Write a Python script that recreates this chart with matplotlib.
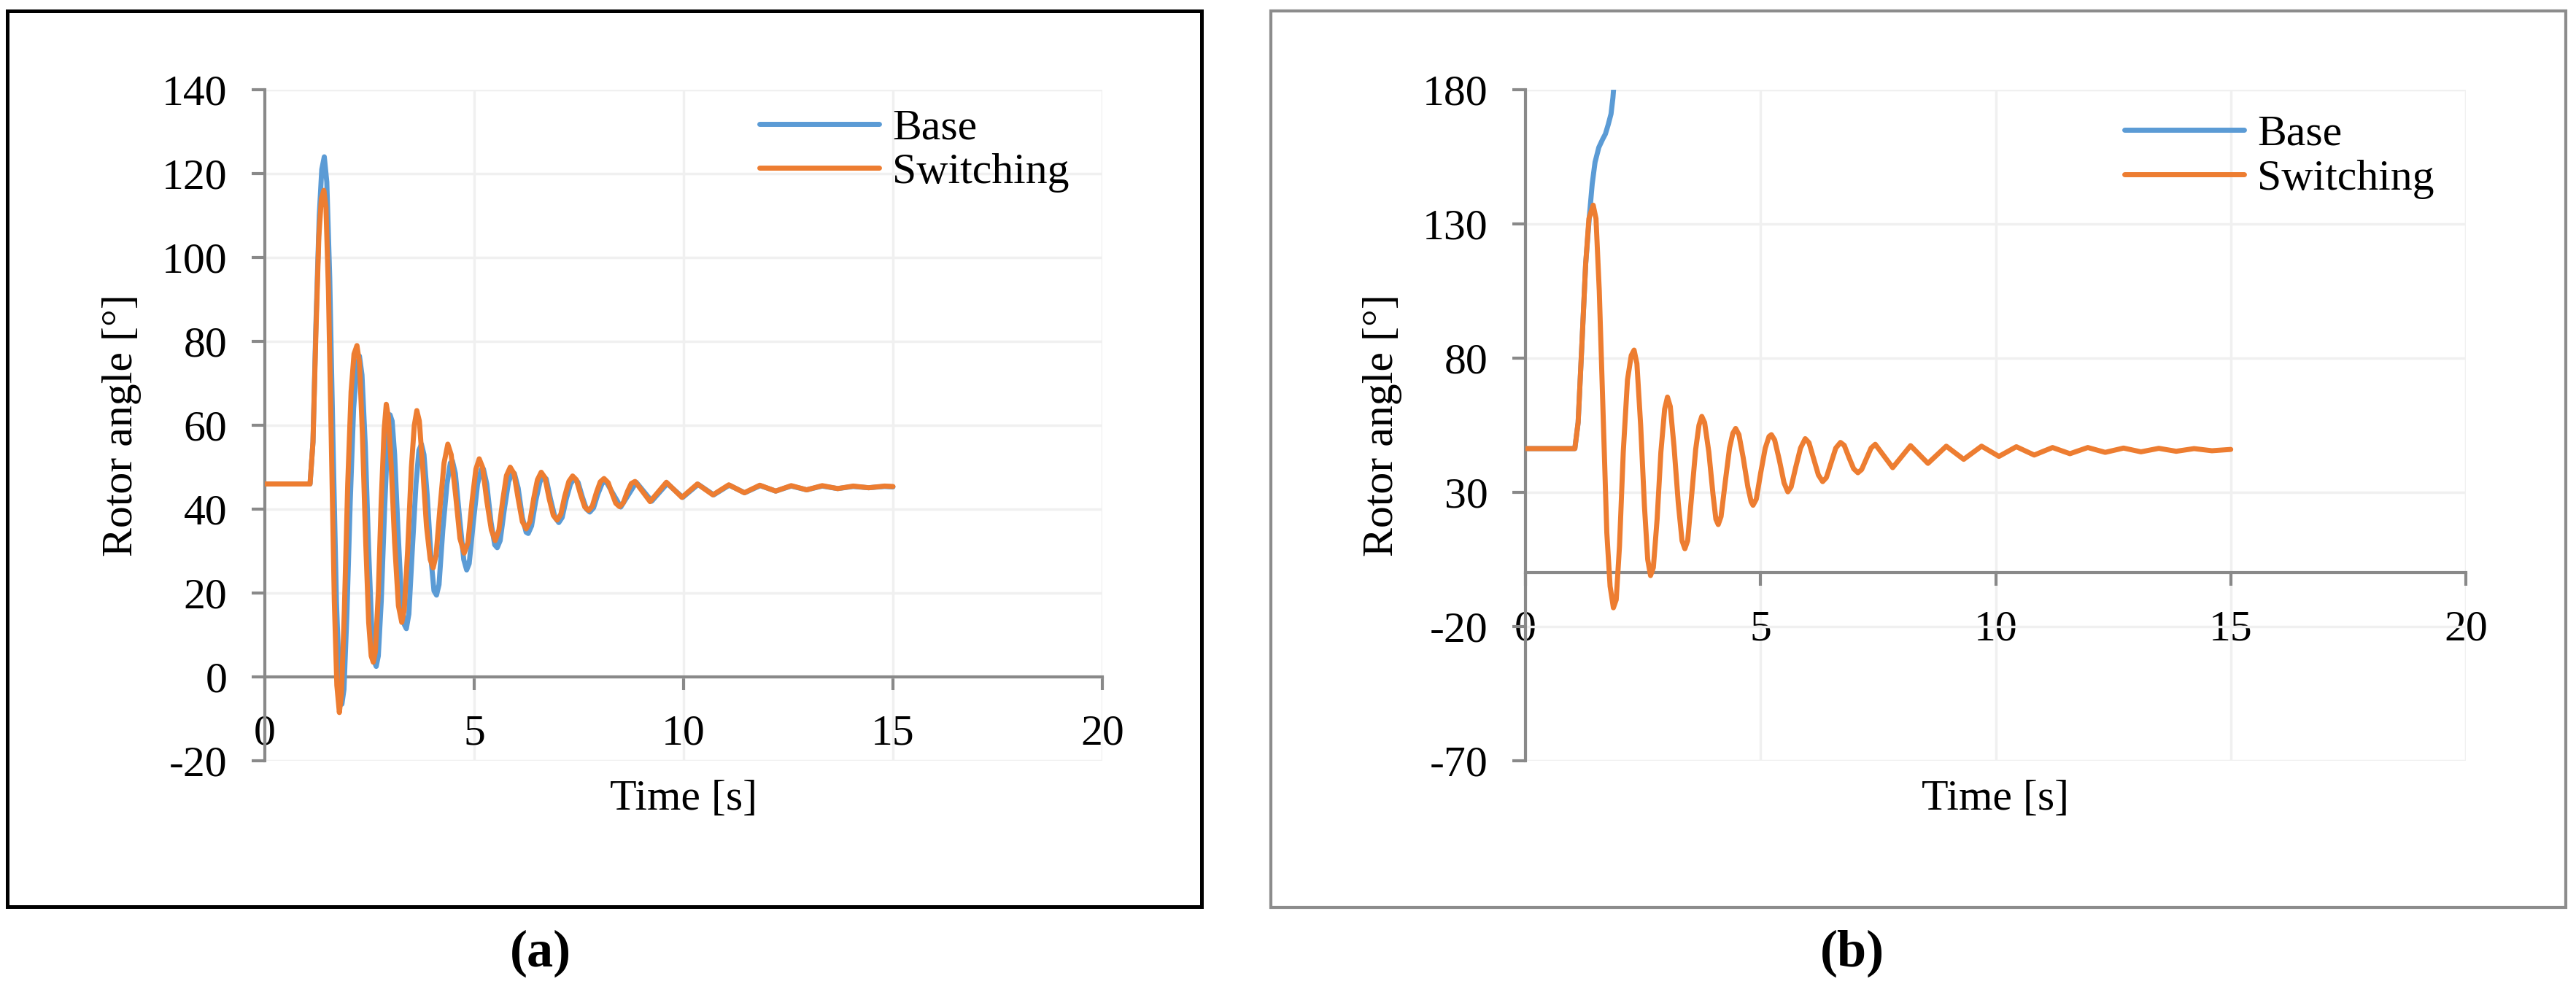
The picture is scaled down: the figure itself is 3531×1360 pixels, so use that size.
import matplotlib
matplotlib.use("Agg")
import matplotlib.pyplot as plt
from matplotlib.patches import Rectangle

plt.rcParams['font.family'] = ['Liberation Serif', 'DejaVu Serif']
plt.rcParams['axes.unicode_minus'] = False

# ---------------- data ----------------
# Panel (a)
a_switch_t = [0, 1.08, 1.15, 1.22, 1.29, 1.35, 1.41, 1.46, 1.52, 1.59, 1.66, 1.72, 1.78, 1.83, 1.9,
              1.98, 2.06, 2.13, 2.2, 2.26, 2.33, 2.41, 2.48, 2.54, 2.59, 2.64, 2.71, 2.78, 2.85, 2.9,
              2.95, 3.02, 3.1, 3.19, 3.27, 3.33, 3.41, 3.5, 3.57, 3.63, 3.69, 3.77, 3.86, 3.95, 4.02,
              4.09, 4.18, 4.28, 4.37, 4.45, 4.56, 4.66, 4.76, 4.85, 4.95, 5.04, 5.12, 5.2, 5.3, 5.41,
              5.5, 5.59, 5.68, 5.77, 5.86, 5.95, 6.05, 6.15, 6.24, 6.33, 6.42, 6.51, 6.6, 6.69, 6.79,
              6.89, 6.98, 7.07, 7.16, 7.26, 7.35, 7.44, 7.54, 7.64, 7.73, 7.82, 7.92, 8.01, 8.1, 8.2,
              8.29, 8.38, 8.47, 8.56, 8.66, 8.75, 8.84, 9.2, 9.59, 9.96, 10.33, 10.7, 11.08, 11.45,
              11.82, 12.2, 12.57, 12.94, 13.31, 13.68, 14.05, 14.42, 14.8, 15.0]
a_switch_v = [46, 46, 56, 82, 105, 114, 116, 112, 92, 55, 18, -2, -8.5, -4, 16,
              46, 68, 77, 79, 75, 58, 32, 13, 5, 3.5, 6, 20, 42, 59, 65,
              62, 50, 32, 17, 13, 16, 30, 50, 60, 63.5, 61, 50, 36, 28, 26,
              29, 40, 51, 55.5, 53, 43, 33, 29.5, 32, 42, 49.5, 52, 50, 42, 35,
              32.5, 35, 42, 48, 50, 48.5, 42.5, 37, 35.3, 37, 42.5, 47, 48.8, 47.5, 42.5,
              38.5, 37.4, 38.8, 43, 46.6, 47.9, 47, 43.5, 40.5, 39.7, 40.7, 44, 46.5, 47.3, 46.3,
              43.8, 41.4, 40.6, 41.5, 44.2, 46.1, 46.6, 41.8, 46.4, 42.8, 46.0, 43.4, 45.8, 43.9,
              45.7, 44.3, 45.6, 44.6, 45.6, 44.9, 45.5, 45.1, 45.5, 45.4]

a_base_t = [0, 1.08, 1.15, 1.22, 1.3, 1.36, 1.42, 1.48, 1.55, 1.63, 1.71, 1.78, 1.84, 1.89, 1.96,
            2.04, 2.12, 2.2, 2.26, 2.32, 2.4, 2.48, 2.56, 2.62, 2.66, 2.71, 2.78, 2.86, 2.93, 2.99,
            3.04, 3.1, 3.18, 3.26, 3.33, 3.38, 3.44, 3.52, 3.61, 3.68, 3.74, 3.8, 3.88, 3.97, 4.04,
            4.1, 4.16, 4.25, 4.35, 4.43, 4.48, 4.55, 4.65, 4.75, 4.82, 4.88, 4.98, 5.08, 5.17, 5.22,
            5.3, 5.4, 5.49, 5.55, 5.62, 5.72, 5.82, 5.9, 5.96, 6.05, 6.15, 6.24, 6.29, 6.37, 6.47,
            6.57, 6.65, 6.72, 6.82, 6.93, 7.02, 7.1, 7.2, 7.3, 7.39, 7.48, 7.58, 7.68, 7.76, 7.85,
            7.95, 8.05, 8.13, 8.5, 8.87, 9.24, 9.61, 9.98, 10.35, 10.72, 11.09, 11.46, 11.83, 12.2,
            12.57, 12.94, 13.31, 13.68, 14.05, 14.42, 14.8, 15.0]
a_base_v = [46, 46, 56, 84, 110, 121, 124, 118, 95, 55, 18, -1, -6.5, -3, 15,
            42, 64, 74, 76.5, 72, 55, 30, 10, 3.5, 2.5, 5, 18, 40, 56, 62.5,
            61, 53, 35, 19, 12.5, 11.5, 15, 30, 46, 54, 55.5, 53, 43, 28, 20.5,
            19.5, 22, 35, 46, 51, 51.5, 48.5, 38, 28, 25.5, 27, 37, 46, 49.5, 49.6,
            46, 37, 31.5, 30.8, 32.5, 40, 46.5, 48.5, 48.5, 45, 38, 34.5, 34.2, 36, 42,
            46.5, 47.8, 47.2, 42.5, 38, 36.8, 38, 42.5, 46, 47.3, 46.4, 43, 40, 39.3, 40.3,
            43.5, 46, 46.9, 40.5, 46.4, 41.9, 46.1, 42.8, 45.9, 43.4, 45.7, 43.9, 45.6, 44.3,
            45.5, 44.6, 45.5, 44.9, 45.4, 45.1, 45.4, 45.3]

# Panel (b)
b_switch_t = [0, 1.05, 1.12, 1.2, 1.28, 1.35, 1.44, 1.5, 1.57, 1.65, 1.73, 1.8, 1.87, 1.93, 2.0,
              2.08, 2.17, 2.25, 2.31, 2.37, 2.45, 2.53, 2.6, 2.66, 2.72, 2.8, 2.88, 2.96, 3.02, 3.08,
              3.16, 3.25, 3.33, 3.39, 3.45, 3.53, 3.62, 3.69, 3.75, 3.81, 3.9, 3.99, 4.05, 4.1, 4.16,
              4.25, 4.34, 4.41, 4.47, 4.54, 4.63, 4.73, 4.8, 4.84, 4.91, 5.0, 5.1, 5.18, 5.23, 5.3,
              5.4, 5.5, 5.58, 5.65, 5.75, 5.85, 5.95, 6.03, 6.13, 6.23, 6.32, 6.4, 6.5, 6.6, 6.7,
              6.78, 6.88, 6.98, 7.07, 7.15, 7.25, 7.35, 7.44, 7.81, 8.19, 8.56, 8.95, 9.32, 9.7,
              10.07, 10.44, 10.82, 11.21, 11.58, 11.96, 12.33, 12.72, 13.09, 13.47, 13.84, 14.22,
              14.6, 15.0]
b_switch_v = [46.3, 46.3, 56, 85, 115, 132, 137, 132, 105, 60, 15, -5, -13, -10, 10,
              45, 72, 81, 83, 78, 55, 25, 5, -1, 2, 20, 45, 61, 65.5, 62,
              47, 26, 12, 9, 12, 28, 46, 55, 58.3, 56, 45, 29, 20, 18, 21,
              34, 46.5, 52, 53.8, 51.5, 43, 32, 26.5, 25.2, 27.5, 37, 46.5, 50.8, 51.5, 49.5,
              42, 33.5, 30.2, 32, 39.5, 46.5, 50, 48.5, 42.5, 36.5, 34, 35.5, 41, 46.5, 48.6,
              47.5, 43, 38.8, 37.3, 38.5, 42.5, 46.5, 47.9, 39.2, 47.4, 40.8, 47.2, 42.3, 47.2,
              43.4, 47.0, 43.9, 46.7, 44.4, 46.7, 44.9, 46.5, 45.1, 46.4, 45.3, 46.3,
              45.5, 46.0]

b_base_t = [0, 1.05, 1.12, 1.2, 1.28, 1.36, 1.42, 1.48, 1.56, 1.64, 1.7, 1.76, 1.82, 1.86, 1.9, 1.95]
b_base_v = [46.3, 46.3, 56, 85, 115, 133, 145, 153, 158.5, 161.5, 163.5, 167, 171, 177, 186, 200]

series_names = ["Base", "Switching"]
y_ticks_a = [-20, 0, 20, 40, 60, 80, 100, 120, 140]
y_ticks_b = [-70, -20, 30, 80, 130, 180]
x_ticks = [0, 5, 10, 15, 20]
panel_labels = ["(a)", "(b)"]

# ---------------- style ----------------
W, H = 3531, 1360
BLUE = '#5B9BD5'
ORANGE = '#ED7D31'
AXC = '#898989'
GRIDC = '#F0F0F0'
FS = 43

fig = plt.figure(figsize=(W / 100, H / 100), dpi=100)
fig.patch.set_facecolor('white')


def px_rect(x0, y0, x1, y1):
    return [x0 / W, 1 - y1 / H, (x1 - x0) / W, (y1 - y0) / H]


ax1 = fig.add_axes(px_rect(363, 123, 1511, 1043))
ax2 = fig.add_axes(px_rect(2091, 123, 3380, 1043))


def style(ax, yticks, ylabx, leg_x, leg_y):
    ax.set_xlim(0, 20)
    ax.set_ylim(yticks[0], yticks[-1])
    ax.set_xticks(x_ticks)
    ax.set_yticks(yticks)
    ax.set_xticklabels([str(v) for v in x_ticks])
    ax.set_yticklabels([str(v) for v in yticks])
    for s in ['top', 'right']:
        ax.spines[s].set_visible(False)
    ax.spines['bottom'].set_position(('data', 0))
    for s in ['left', 'bottom']:
        ax.spines[s].set_color(AXC)
        ax.spines[s].set_linewidth(3)
        ax.spines[s].set_zorder(1.5)
    ax.tick_params(axis='both', direction='out', length=13, width=3, color=AXC,
                   labelsize=FS, labelcolor='black', pad=24)
    ax.grid(True, color=GRIDC, linewidth=2.5)
    ax.set_axisbelow(True)
    ax.set_xlabel("Time [s]", fontsize=FS)
    ax.set_ylabel("Rotor angle [°]", fontsize=FS)
    ax.xaxis.set_label_coords(0.5, -0.028)
    ax.yaxis.set_label_coords(ylabx, 0.5)
    leg = ax.legend(loc='upper left', bbox_to_anchor=(leg_x, leg_y), frameon=False,
                    fontsize=FS, handlelength=2.75, handletextpad=0.3,
                    labelspacing=0.1, borderpad=0, borderaxespad=0)
    for l in leg.get_lines():
        l.set_linewidth(5)


ax1.plot(a_base_t, a_base_v, color=BLUE, lw=5, label=series_names[0],
         solid_joinstyle='round', solid_capstyle='round', zorder=2)
ax1.plot(a_switch_t, a_switch_v, color=ORANGE, lw=5, label=series_names[1],
         solid_joinstyle='round', solid_capstyle='round', zorder=3)
style(ax1, y_ticks_a, -0.147, 0.5906, 0.972)

ax2.plot(b_base_t, b_base_v, color=BLUE, lw=5, label=series_names[0],
         solid_joinstyle='round', solid_capstyle='round', zorder=2)
ax2.plot(b_switch_t, b_switch_v, color=ORANGE, lw=5, label=series_names[1],
         solid_joinstyle='round', solid_capstyle='round', zorder=3)
style(ax2, y_ticks_b, -0.131, 0.637, 0.963)

# outer frames
fig.add_artist(Rectangle((10 / W, 1 - 1243 / H), (1646.5 - 10) / W, (1243 - 15) / H,
                         transform=fig.transFigure, fill=False, ec='black', lw=3.6))
fig.add_artist(Rectangle((1741.5 / W, 1 - 1243.5 / H), (3516.5 - 1741.5) / W, (1243.5 - 15) / H,
                         transform=fig.transFigure, fill=False, ec='#8C8C8C', lw=3.0))

fig.text(741 / W, 1 - 1307 / H, panel_labels[0], ha='center', va='center',
         fontsize=52, fontweight='bold')
fig.text(2539 / W, 1 - 1307 / H, panel_labels[1], ha='center', va='center',
         fontsize=52, fontweight='bold')

fig.savefig('out.png', dpi=100, facecolor='white')
